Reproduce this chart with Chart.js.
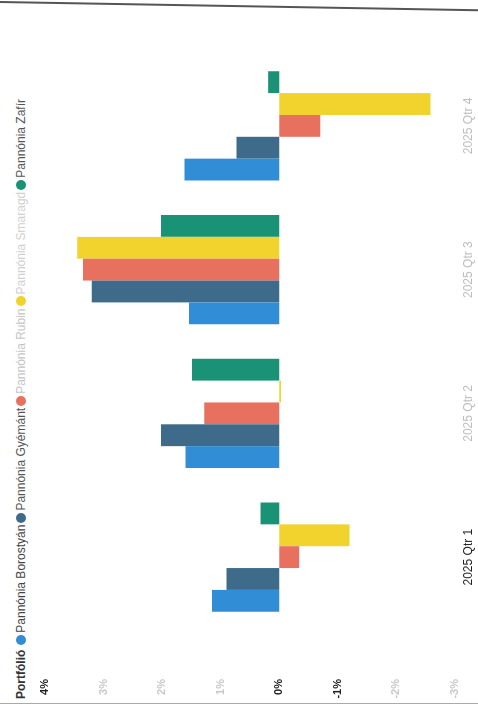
<!DOCTYPE html>
<html>
<head>
<meta charset="utf-8">
<script src="https://cdn.jsdelivr.net/npm/chart.js@4.4.1/dist/chart.umd.min.js"></script>
<style>
    html, body { margin: 0; padding: 0; width: 478px; height: 705px; overflow: hidden; background: #fff; }
    /* the scanned page is turned a quarter turn, so the chart is drawn upright and rotated */
    #page {
        position: absolute; left: 0; top: 0; width: 705px; height: 478px;
        transform-origin: 0 0; transform: translateY(705px) rotate(-90deg);
        font-family: 'Liberation Sans', Arial, sans-serif;
    }
    #legend {
        position: absolute; left: 6px; top: 14px; display: flex; align-items: center;
        font-size: 12px; white-space: nowrap; color: #444;
    }
    #legend .title { font-weight: bold; color: #333; margin-right: 5px; }
    #legend .item { display: flex; align-items: center; margin-right: 2px; }
    #legend .dot { width: 10px; height: 10px; border-radius: 50%; margin-right: 2px; }
    canvas { position: absolute; left: 0; top: 0; }
    .edge-top {
        position: absolute; left: 0; top: 1px; width: 480px; height: 2px; background: #555;
        transform-origin: 0 0; transform: rotate(1deg);
    }
    .edge-bottom { position: absolute; left: 0; top: 703px; width: 478px; height: 1px; background: #aaa; }
</style>
</head>
<body>
<div id="page">
    <div id="legend"></div>
    <canvas id="chart" width="705" height="478"></canvas>
</div>
<div class="edge-top"></div>
<div class="edge-bottom"></div>
<script>
const legendTitle = 'Portfólió';
const quarters = ['2025 Qtr 1', '2025 Qtr 2', '2025 Qtr 3', '2025 Qtr 4'];
const seriesNames = ['Pannónia Borostyán', 'Pannónia Gyémánt', 'Pannónia Rubin', 'Pannónia Smaragd', 'Pannónia Zafír'];
const seriesColors = ['#318dd5', '#3d6b89', '#e8705f', '#f2d22c', '#1a9275'];
const legendTextColors = ['#444', '#555', '#c4c4c4', '#cfcfcf', '#555'];

// returns in %
const borostyan = [1.15, 1.60, 1.54, 1.62];
const gyemant = [0.90, 2.02, 3.20, 0.73];
const rubin = [-0.34, 1.28, 3.35, -0.70];
const smaragd = [-1.20, -0.03, 3.45, -2.58];
const zafir = [0.32, 1.49, 2.02, 0.19];
const seriesValues = [borostyan, gyemant, rubin, smaragd, zafir];

// the scan fades some labels
const darkValueTicks = [4, 0, -1];
const darkQuarters = ['2025 Qtr 1'];

// build legend
const legend = document.getElementById('legend');
const title = document.createElement('span');
title.className = 'title';
title.textContent = legendTitle;
legend.appendChild(title);
seriesNames.forEach((name, i) => {
    const item = document.createElement('span');
    item.className = 'item';
    const dot = document.createElement('span');
    dot.className = 'dot';
    dot.style.background = seriesColors[i];
    const label = document.createElement('span');
    label.textContent = name;
    label.style.color = legendTextColors[i];
    item.appendChild(dot);
    item.appendChild(label);
    legend.appendChild(item);
});

new Chart(document.getElementById('chart'), {
    type: 'bar',
    data: {
        labels: quarters,
        datasets: seriesNames.map((name, i) => ({
            label: name,
            data: seriesValues[i],
            backgroundColor: seriesColors[i],
            borderWidth: 0,
            categoryPercentage: 0.76,
            barPercentage: 1,
        })),
    },
    options: {
        responsive: false,
        animation: false,
        layout: { padding: { top: 45, right: 54, bottom: 0, left: 0 } },
        plugins: { legend: { display: false }, tooltip: { enabled: false } },
        scales: {
            x: {
                grid: { display: false, drawTicks: false },
                border: { display: false },
                ticks: {
                    padding: 6,
                    maxRotation: 0,
                    font: { family: "'Liberation Sans', Arial, sans-serif", size: 12 },
                    color: (ctx) => darkQuarters.includes(quarters[ctx.index]) ? '#222' : '#bdbdbd',
                },
                afterFit: (scale) => { scale.height = 23; },
            },
            y: {
                min: -3,
                max: 4,
                grid: { display: false, drawTicks: false },
                border: { display: false },
                ticks: {
                    stepSize: 1,
                    padding: 50,
                    font: { family: "'Liberation Sans', Arial, sans-serif", size: 11, weight: 'bold' },
                    color: (ctx) => darkValueTicks.includes(ctx.tick.value) ? '#222' : '#c8c8c8',
                    callback: (v) => v + '%',
                },
                // keep the wide label gap from pushing the plot top and bottom in
                afterFit: (scale) => {
                    scale.width = 76;
                    scale.paddingTop = 0;
                    scale.paddingBottom = 0;
                },
            },
        },
    },
});
</script>
</body>
</html>
